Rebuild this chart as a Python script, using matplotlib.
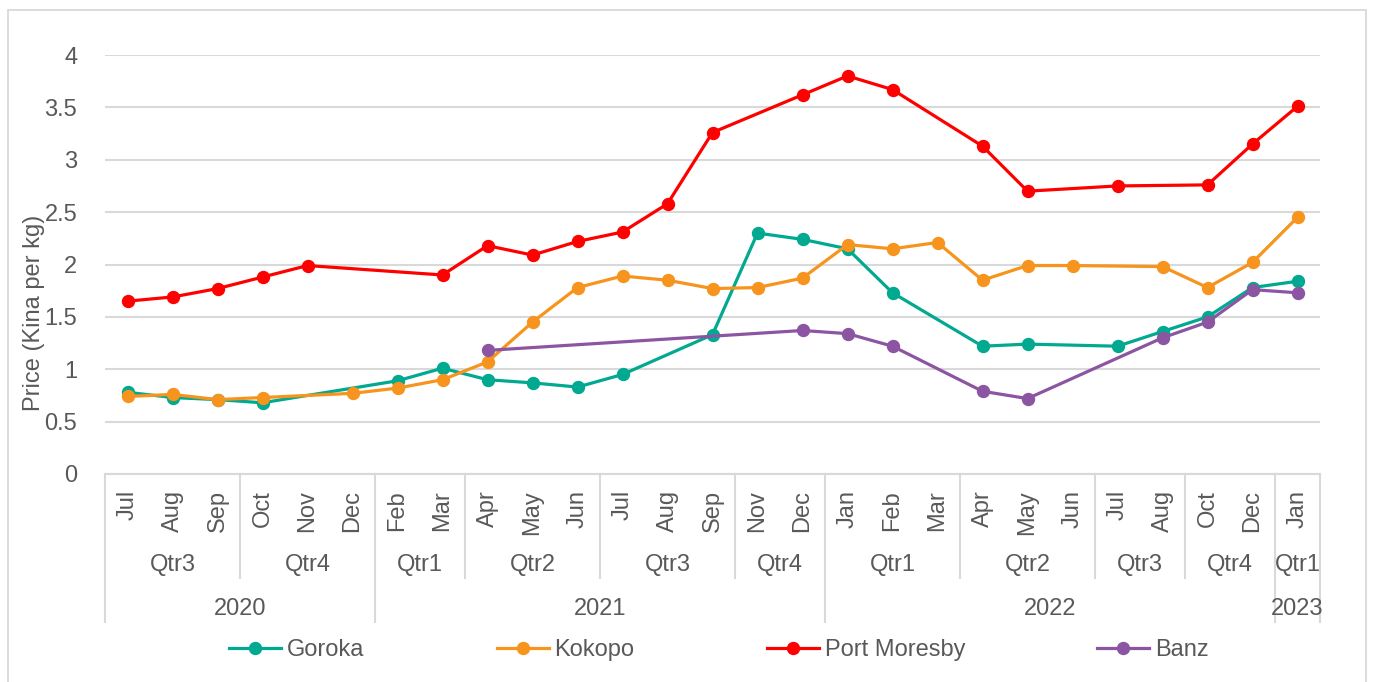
import numpy as np
import matplotlib
matplotlib.use("Agg")
import matplotlib.pyplot as plt
from matplotlib.lines import Line2D
from matplotlib.patches import Rectangle

nan = np.nan

months = ["Jul", "Aug", "Sep", "Oct", "Nov", "Dec", "Feb", "Mar", "Apr", "May", "Jun",
          "Jul", "Aug", "Sep", "Nov", "Dec", "Jan", "Feb", "Mar", "Apr", "May", "Jun",
          "Jul", "Aug", "Oct", "Dec", "Jan"]
quarters = ["Qtr3", "Qtr4", "Qtr1", "Qtr2", "Qtr3", "Qtr4", "Qtr1", "Qtr2", "Qtr3", "Qtr4", "Qtr1"]
quarter_sizes = [3, 3, 2, 3, 3, 2, 3, 3, 2, 2, 1]
years = ["2020", "2021", "2022", "2023"]
year_sizes = [6, 10, 10, 1]

goroka = [0.78, 0.73, 0.71, 0.68, nan, nan, 0.89, 1.01, 0.90, 0.87, 0.83,
          0.95, nan, 1.33, 2.30, 2.24, 2.15, 1.73, nan, 1.22, 1.24, nan,
          1.22, 1.36, 1.50, 1.78, 1.84]
kokopo = [0.74, 0.76, 0.71, 0.73, nan, 0.77, 0.82, 0.90, 1.07, 1.45, 1.78,
          1.89, 1.85, 1.77, 1.78, 1.87, 2.19, 2.15, 2.21, 1.85, 1.99, 1.99,
          nan, 1.98, 1.78, 2.02, 2.45]
port_moresby = [1.65, 1.69, 1.77, 1.88, 1.99, nan, nan, 1.90, 2.18, 2.09, 2.22,
                2.31, 2.58, 3.26, nan, 3.62, 3.80, 3.67, nan, 3.13, 2.70, nan,
                2.75, nan, 2.76, 3.15, 3.51]
banz = [nan, nan, nan, nan, nan, nan, nan, nan, 1.18, nan, nan,
        nan, nan, nan, nan, 1.37, 1.34, 1.22, nan, 0.79, 0.72, nan,
        nan, 1.30, 1.45, 1.76, 1.73]

series = [("Goroka", goroka, "#00A98F"),
          ("Kokopo", kokopo, "#F7941D"),
          ("Port Moresby", port_moresby, "#FF0000"),
          ("Banz", banz, "#8B55A2")]

plt.rcParams['font.family'] = ['Liberation Sans', 'DejaVu Sans']
TXT = "#595959"
GRID = "#D9D9D9"
FS = 17

W, H = 1374, 682
fig = plt.figure(figsize=(W / 100, H / 100), dpi=100)
L, R, B, T = 105, 1320, 474, 55
ax = fig.add_axes([L / W, 1 - B / H, (R - L) / W, (B - T) / H])

n = len(months)
x = np.arange(n)
for name, vals, col in series:
    v = np.array(vals, dtype=float)
    m = ~np.isnan(v)
    ax.plot(x[m], v[m], color=col, lw=2.3, marker="o", ms=8.6, label=name,
            clip_on=False, zorder=3)

ax.set_xlim(-0.5, n - 0.5)
ax.set_ylim(0, 4)
ax.set_yticks(np.arange(0, 4.01, 0.5))
ax.set_yticklabels(["0", "0.5", "1", "1.5", "2", "2.5", "3", "3.5", "4"])
ax.tick_params(axis="y", length=0, pad=20, labelsize=FS, labelcolor=TXT)
ax.set_xticks([])
ax.grid(axis="y", color=GRID, lw=1.5)
ax.set_axisbelow(True)
for s in ["top", "right", "left"]:
    ax.spines[s].set_visible(False)
ax.spines["bottom"].set_color(GRID)
ax.spines["bottom"].set_linewidth(1.5)

fig.text(34 / W, 1 - 313 / H, "Price (Kina per kg)", rotation=90, ha="center",
         va="center", fontsize=FS, color=TXT)

# multi-level category axis
def fy(py):
    return 1 - py / H

def fx(xi):
    return (L + (xi + 0.5) * (R - L) / n) / W

for i, mth in enumerate(months):
    fig.text(fx(i), fy(490), mth, rotation=90, ha="center", va="top",
             fontsize=FS, color=TXT)

start = 0
for q, sz in zip(quarters, quarter_sizes):
    fig.text(fx(start + (sz - 1) / 2), fy(565), q, ha="center", va="center",
             fontsize=FS, color=TXT)
    start += sz

year_bounds = set()
start = 0
for yv, sz in zip(years, year_sizes):
    fig.text(fx(start + (sz - 1) / 2), fy(609), yv, ha="center", va="center",
             fontsize=FS, color=TXT)
    year_bounds.add(start)
    start += sz
year_bounds.add(start)

qb = [0]
for sz in quarter_sizes:
    qb.append(qb[-1] + sz)
for b in qb:
    bx = fx(b - 0.5)
    y_end = 622 if b in year_bounds else 578
    fig.add_artist(Line2D([bx, bx], [fy(474), fy(y_end)], color=GRID, lw=1.5))

# outer border
fig.add_artist(Rectangle((8 / W, -0.05), (1366 - 8) / W, 1.05 - 10 / H,
                         fill=False, edgecolor=GRID, lw=1.3))

handles = [Line2D([], [], color=c, lw=2.3, marker="o", ms=8.6) for _, _, c in series]
labels = [nm for nm, _, _ in series]
fig.legend(handles, labels, loc="center", bbox_to_anchor=(719 / W, fy(650)),
           ncol=4, frameon=False, fontsize=FS, labelcolor=TXT,
           handlelength=2.2, handletextpad=0.25, columnspacing=5.6)

fig.savefig("out.png", dpi=100)
